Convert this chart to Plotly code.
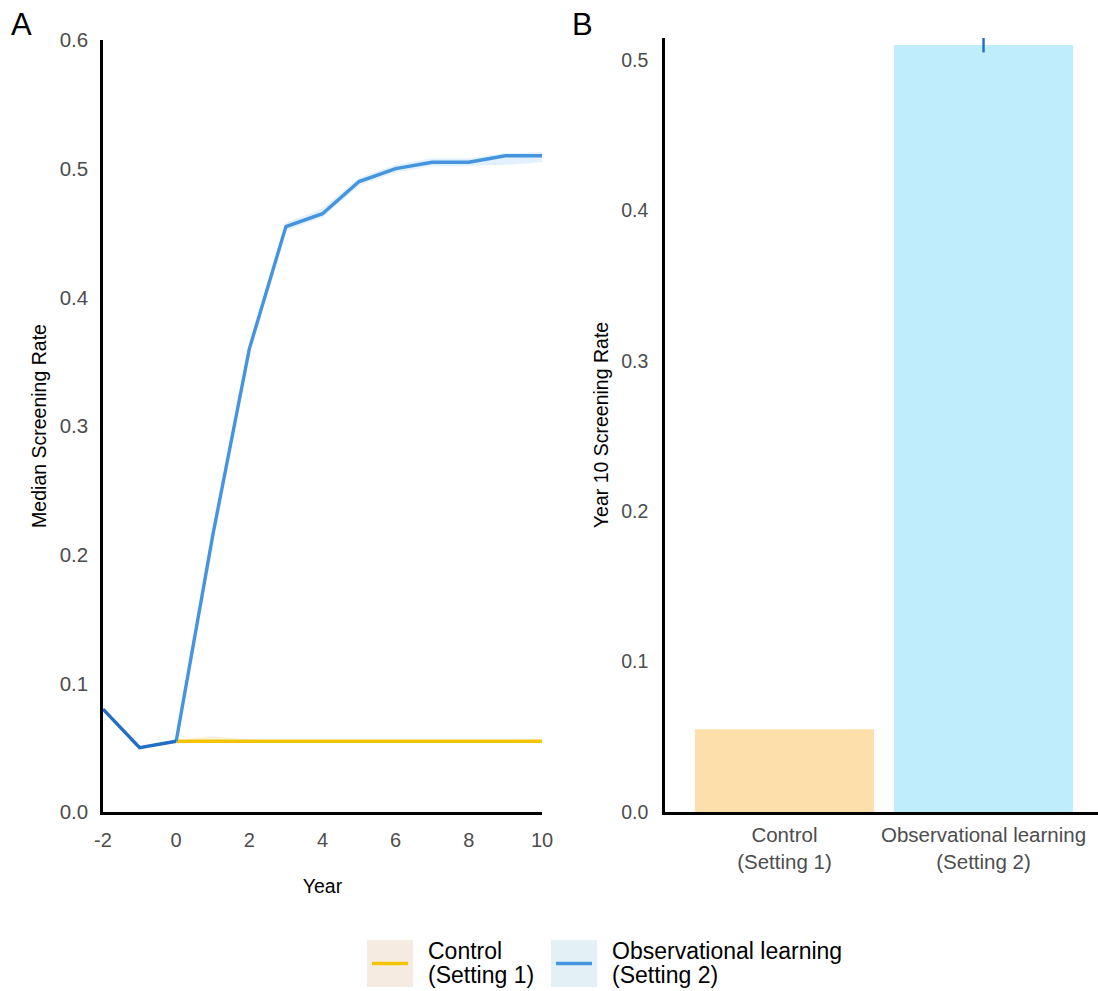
import plotly.graph_objects as go

# ---------------- data ----------------
pre_years = [-2, -1, 0]
pre_rate = [0.080, 0.050, 0.055]

ctrl_years = [0, 1, 2, 3, 4, 5, 6, 7, 8, 9, 10]
ctrl_rate = [0.055, 0.055, 0.055, 0.055, 0.055, 0.055, 0.055, 0.055, 0.055, 0.055, 0.055]
ctrl_lo = [0.054, 0.054, 0.054, 0.054, 0.054, 0.054, 0.054, 0.054, 0.054, 0.054, 0.054]
ctrl_hi = [0.056, 0.059, 0.056, 0.056, 0.056, 0.056, 0.056, 0.056, 0.056, 0.056, 0.056]

obs_years = [0, 1, 2, 3, 4, 5, 6, 7, 8, 9, 10]
obs_rate = [0.055, 0.215, 0.360, 0.455, 0.465, 0.490, 0.500, 0.505, 0.505, 0.510, 0.510]
obs_lo = [0.053, 0.212, 0.357, 0.452, 0.462, 0.487, 0.497, 0.502, 0.502, 0.503, 0.505]
obs_hi = [0.057, 0.218, 0.363, 0.458, 0.469, 0.493, 0.503, 0.508, 0.508, 0.512, 0.513]

year_ticks = [-2, 0, 2, 4, 6, 8, 10]
year_ticktext = ["-2", "0", "2", "4", "6", "8", "10"]
rate_ticks_a = [0, 0.1, 0.2, 0.3, 0.4, 0.5, 0.6]
rate_ticks_b = [0, 0.1, 0.2, 0.3, 0.4, 0.5]

bar_cats = ["Control<br>(Setting 1)", "Observational learning<br>(Setting 2)"]
bar_vals = [0.055, 0.510]
bar_err = [0.0, 0.005]

legend_lines = [["Control", "(Setting 1)"], ["Observational learning", "(Setting 2)"]]

# ---------------- style ----------------
YELLOW = "#f2c500"
BLUE = "#4494df"
BLUE_DARK = "#1f70c4"
FONT = "Liberation Sans, Arial, sans-serif"
TICK_GRAY = "#4d4d4d"

fig = go.Figure()

# ribbons
fig.add_trace(go.Scatter(x=ctrl_years + ctrl_years[::-1], y=ctrl_hi + ctrl_lo[::-1],
                         fill="toself", fillcolor="rgba(245,215,170,0.35)",
                         line=dict(width=0), hoverinfo="skip", showlegend=False,
                         xaxis="x", yaxis="y"))
fig.add_trace(go.Scatter(x=obs_years + obs_years[::-1], y=obs_hi + obs_lo[::-1],
                         fill="toself", fillcolor="rgba(190,225,250,0.45)",
                         line=dict(width=0), hoverinfo="skip", showlegend=False,
                         xaxis="x", yaxis="y"))
# lines
fig.add_trace(go.Scatter(x=ctrl_years, y=ctrl_rate, mode="lines",
                         line=dict(color=YELLOW, width=3.4), showlegend=False,
                         xaxis="x", yaxis="y"))
fig.add_trace(go.Scatter(x=obs_years, y=obs_rate, mode="lines",
                         line=dict(color=BLUE, width=3.4), showlegend=False,
                         xaxis="x", yaxis="y"))
fig.add_trace(go.Scatter(x=pre_years, y=pre_rate, mode="lines",
                         line=dict(color=BLUE_DARK, width=3.4), showlegend=False,
                         xaxis="x", yaxis="y"))

# bars
fig.add_trace(go.Bar(x=bar_cats, y=bar_vals, width=0.9,
                     marker=dict(color=["#fddfab", "#c0edfc"], line=dict(width=0)),
                     error_y=dict(type="data", array=bar_err, visible=True,
                                  color=BLUE_DARK, thickness=2.4, width=0),
                     showlegend=False, xaxis="x2", yaxis="y2"))

W, H = 1098, 991
def px(x):
    return x / W
def py(y):
    return (H - y) / H

def axis_style(tick_size):
    return dict(showgrid=False, zeroline=False, showline=True, linecolor="black",
                linewidth=2.5, ticks="",
                tickfont=dict(family=FONT, size=tick_size, color=TICK_GRAY),
                title_font=dict(family=FONT, size=19.5, color="black"))

fig.update_layout(
    width=W, height=H, margin=dict(l=0, r=0, t=0, b=0, autoexpand=False),
    plot_bgcolor="white", paper_bgcolor="white",
    font=dict(family=FONT),
    showlegend=False,
    xaxis=dict(domain=[px(103), px(542)], range=[-2, 10], tickvals=year_ticks,
               ticktext=year_ticktext,
               title=dict(text="Year", standoff=30), ticklabelstandoff=8,
               anchor="y", automargin=False, **axis_style(20)),
    yaxis=dict(domain=[py(812), py(40)], range=[0, 0.6], tickvals=rate_ticks_a,
               tickformat=".1f", title=dict(text="Median Screening Rate", standoff=8),
               ticklabelstandoff=8, anchor="x", automargin=False, **axis_style(20.5)),
    xaxis2=dict(domain=[px(665), 1.0], range=[-0.6, 1.575], type="category",
                ticklabelstandoff=3, anchor="y2", automargin=False, **axis_style(20.5)),
    yaxis2=dict(domain=[py(812), py(38)], range=[0, 0.5146],
                tickvals=rate_ticks_b, tickformat=".1f",
                title=dict(text="Year 10 Screening Rate", standoff=8),
                ticklabelstandoff=10, anchor="x2", automargin=False, **axis_style(19.5)),
    bargap=0.1,
)

# panel labels
fig.add_annotation(text="A", x=px(9), y=py(24), xref="paper", yref="paper",
                   xanchor="left", yanchor="middle", showarrow=False,
                   font=dict(family=FONT, size=31, color="black"))
fig.add_annotation(text="B", x=px(570), y=py(24), xref="paper", yref="paper",
                   xanchor="left", yanchor="middle", showarrow=False,
                   font=dict(family=FONT, size=31, color="black"))

# custom legend
legend_items = [
    (367, "#f5ebe0", YELLOW, legend_lines[0]),
    (551, "#e3f0f6", BLUE, legend_lines[1]),
]
for x0, bg, lc, lines in legend_items:
    fig.add_shape(type="rect", xref="paper", yref="paper",
                  x0=px(x0), x1=px(x0 + 46), y0=py(987), y1=py(940),
                  fillcolor=bg, line=dict(width=0), layer="below")
    fig.add_shape(type="line", xref="paper", yref="paper",
                  x0=px(x0 + 5), x1=px(x0 + 41), y0=py(963.5), y1=py(963.5),
                  line=dict(color=lc, width=3.5))
    for i, txt in enumerate(lines):
        fig.add_annotation(text=txt, x=px(x0 + 59), y=py(951 + 24 * i),
                           xref="paper", yref="paper",
                           xanchor="left", yanchor="middle", align="left", showarrow=False,
                           font=dict(family=FONT, size=23, color="black"))

fig.write_html("out.html",
               post_script="document.body.style.margin='0';document.body.style.overflow='hidden';")
